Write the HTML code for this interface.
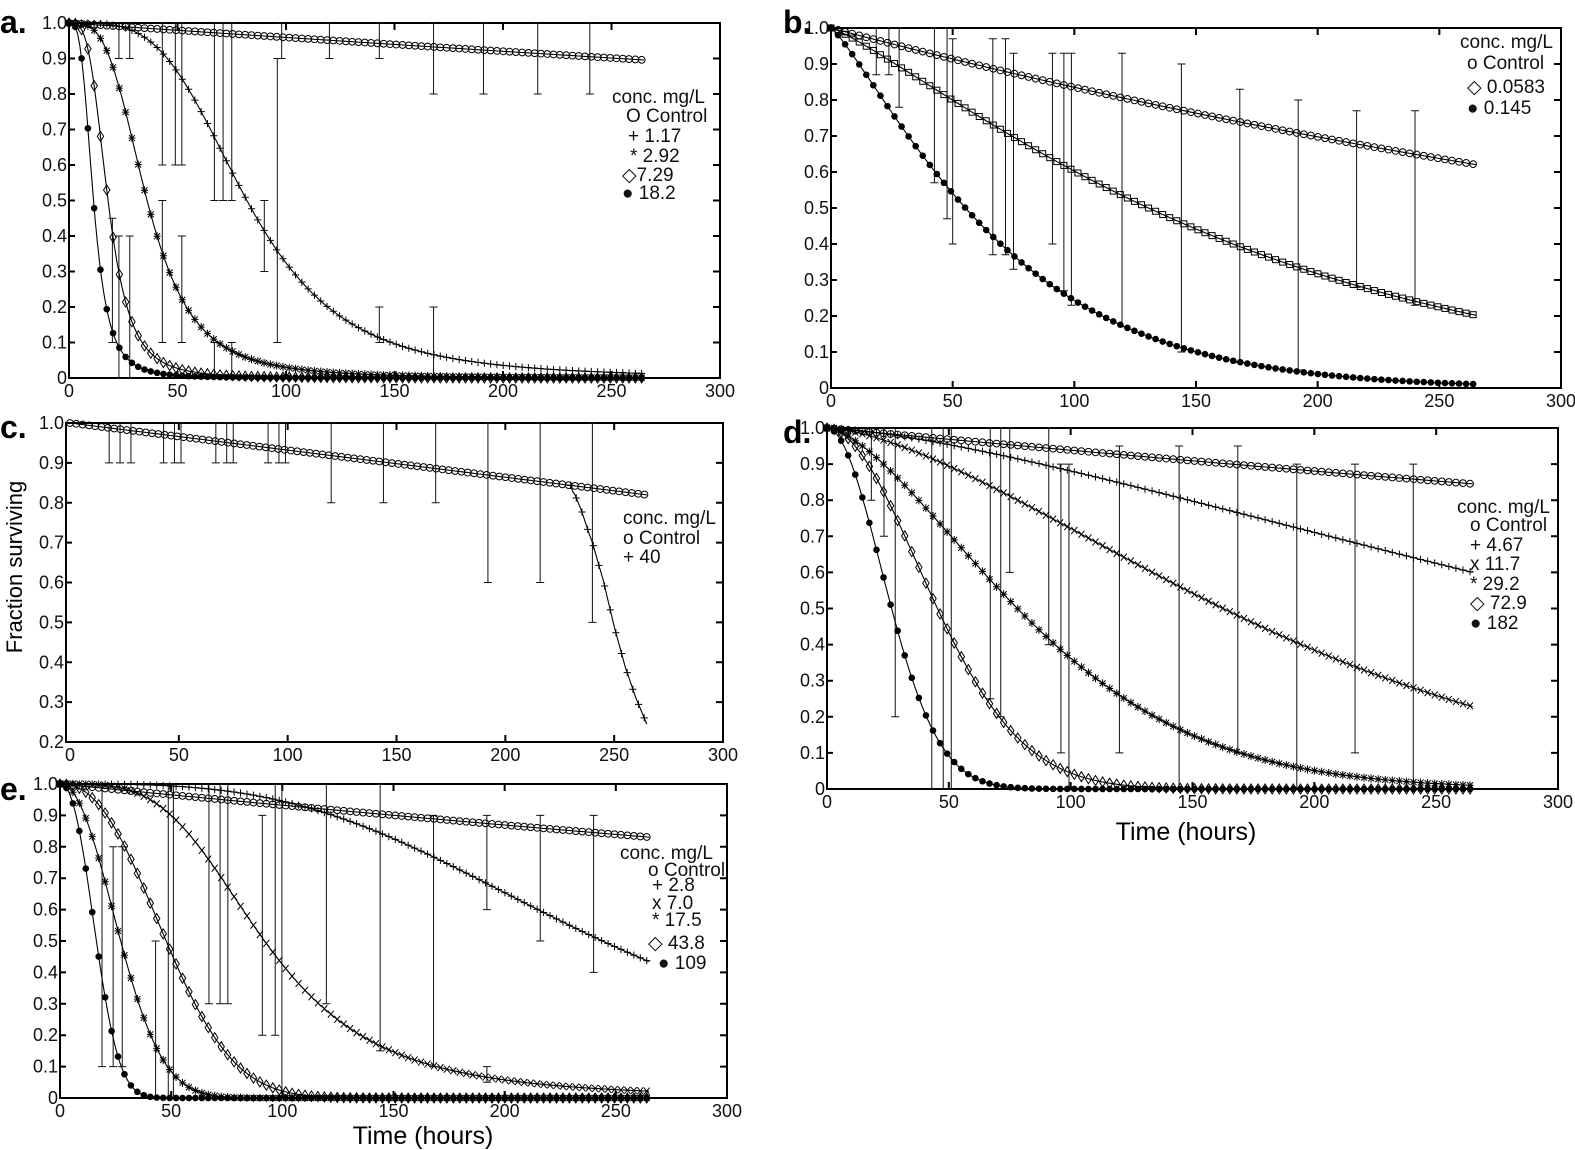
<!DOCTYPE html>
<html><head><meta charset="utf-8">
<style>
html,body{margin:0;padding:0;background:#fff;}
svg{display:block;font-family:"Liberation Sans",sans-serif;}
.n{font-family:"Liberation Sans Narrow","Liberation Sans",sans-serif;}
</style></head>
<body>
<svg id="s" width="1575" height="1150" viewBox="0 0 1575 1150" xmlns="http://www.w3.org/2000/svg"></svg>
<script>
const S=document.getElementById('s');
let out=[];
function ll(t50,k){return t=>1/(1+Math.pow(t/t50,k));}
function wb(l,k){return t=>Math.exp(-Math.pow(t/l,k));}
function ex(r){return t=>Math.exp(-r*t);}
function lin(a){return t=>1-a*t;}
function mk(type,x,y){
  const s=3.6;
  switch(type){
    case 'o': return `<circle cx="${x}" cy="${y}" r="3.4" fill="none" stroke="#000" stroke-width="1"/>`;
    case 'd': return `<path d="M${x} ${y-5}L${x+3.2} ${y}L${x} ${y+5}L${x-3.2} ${y}Z" fill="none" stroke="#000" stroke-width="1"/>`;
    case 'q': return `<rect x="${x-3}" y="${y-3}" width="6" height="6" fill="none" stroke="#000" stroke-width="1"/>`;
    case 'f': return `<circle cx="${x}" cy="${y}" r="3.3" fill="#000"/>`;
    case 'p': return `<path d="M${x-s} ${y}H${x+s}M${x} ${y-s}V${y+s}" stroke="#000" stroke-width="1"/>`;
    case 'x': return `<path d="M${x-3} ${y-3.5}L${x+3} ${y+3.5}M${x+3} ${y-3.5}L${x-3} ${y+3.5}" stroke="#000" stroke-width="1"/>`;
    case 's': return `<path d="M${x-3.5} ${y}H${x+3.5}M${x} ${y-4}V${y+4}M${x-3} ${y-3}L${x+3} ${y+3}M${x+3} ${y-3}L${x-3} ${y+3}" stroke="#000" stroke-width="1"/>`;
  }
}
function panel(p){
  const X=t=>p.x0+(p.x1-p.x0)*t/300;
  const Y=v=>p.yb-(p.yb-p.yt)*(v-p.ymin)/(1-p.ymin);
  const L=p.bl||p.x0;
  out.push(`<rect x="${L}" y="${p.yt}" width="${p.x1-L}" height="${p.yb-p.yt}" fill="none" stroke="#000" stroke-width="2"/>`);
  for(let v=p.ymin;v<=1.0001;v+=0.1){
    const y=Y(v);
    out.push(`<path d="M${L} ${y}h6M${p.x1} ${y}h-7" stroke="#000" stroke-width="2"/>`);
    let lab=Math.abs(v)<1e-6?'0':(Math.abs(v-1)<1e-6?'1.0':v.toFixed(1));
    out.push(`<text class="n" x="${L-2}" y="${y+6}" font-size="18" text-anchor="end" fill="#111">${lab}</text>`);
  }
  for(let t=0;t<=300;t+=50){
    const x=X(t);
    if(t>0&&t<300)out.push(`<path d="M${x} ${p.yt}v7M${x} ${p.yb}v-7" stroke="#000" stroke-width="2"/>`);
    out.push(`<text class="n" x="${x}" y="${p.yb+19}" font-size="18" text-anchor="middle" fill="#111">${t}</text>`);
  }
  for(const b of p.bars){
    const x=X(b[0]);
    out.push(`<path d="M${x} ${Y(b[1])}V${Y(b[2])}M${x-4} ${Y(b[1])}h8M${x-4} ${Y(b[2])}h8" stroke="#111" stroke-width="1"/>`);
  }
  for(const s of p.series){
    const t0=s.t0||0, step=s.step||2.9;
    let pts=[];
    for(let t=t0;t<=265.01;t+=1){pts.push([X(t),Y(s.f(t))]);}
    out.push(`<polyline points="${pts.map(q=>q[0].toFixed(1)+','+q[1].toFixed(1)).join(' ')}" fill="none" stroke="#000" stroke-width="1.1"/>`);
    for(let t=t0;t<=265.01;t+=step){out.push(mk(s.m,X(t),Y(s.f(t))));}
  }
  for(const g of p.leg){out.push(`<text class="n" x="${g[0]}" y="${g[1]}" font-size="${g[3]||19}" fill="#111">${g[2]}</text>`);}
  out.push(`<text x="${p.lab[0]}" y="${p.lab[1]}" font-size="32" font-weight="bold" fill="#000">${p.lab[2]}</text>`);
}
const cctrl=lin(0.00068);
const cpts=[[230,0.836],[232,0.82],[235,0.78],[238,0.73],[240,0.70],[245,0.605],[250,0.49],[255,0.39],[260,0.31],[265,0.245]];
function c40(t){if(t<=230)return cctrl(t);for(let i=1;i<cpts.length;i++){if(t<=cpts[i][0]){const a=cpts[i-1],b=cpts[i];return a[1]+(b[1]-a[1])*(t-a[0])/(b[0]-a[0]);}}return 0.245;}

panel({x0:69,x1:720,yt:23,yb:378,ymin:0,lab:[0,33,'a.'],
 bars:[[23,0.9,1],[28,0.9,1],[43,0.6,1],[49,0.6,1],[52,0.6,1],[67,0.5,1],[71,0.5,1],[75,0.5,1],[90,0.3,0.5],[96,0.1,0.9],[98,0.9,1],[120,0.9,1],[143,0.9,1],[143,0.1,0.2],[168,0.8,1],[168,0.0,0.2],[191,0.8,1],[216,0.8,1],[240,0.8,1],[20,0.1,0.45],[23,0.0,0.4],[28,0.0,0.4],[43,0.1,0.5],[52,0.1,0.4],[67,0.0,0.1],[75,0.0,0.1]],
 series:[{m:'o',f:ex(0.11/265)},{m:'p',f:ll(82,3.7)},{m:'s',f:ll(36,3.4)},{m:'d',f:ll(18,3.5)},{m:'f',f:ll(11.3,3.3)}],
 leg:[[612,103,'conc. mg/L'],[626,122,'O Control'],[628,142,'+ 1.17'],[630,162,'* 2.92'],[622,181,'◇7.29'],[622,199,'● 18.2']]});
panel({x0:831,x1:1561,yt:28,yb:388,ymin:0,lab:[783,33,'b.'],
 bars:[[18.6,0.87,1],[23.8,0.87,1],[28,0.78,1],[42.5,0.57,1],[47.7,0.47,1],[50,0.4,0.97],[66.5,0.37,0.97],[71.7,0.37,0.97],[75,0.33,0.93],[91,0.4,0.93],[95.7,0.27,0.93],[98.8,0.23,0.93],[119.6,0.17,0.93],[144,0.1,0.9],[168,0.07,0.83],[192,0.05,0.8],[216,0.28,0.77],[240,0.23,0.77]],
 series:[{m:'o',f:ex(0.0018)},{m:'q',f:wb(178,1.18)},{m:'f',f:wb(75,1.2)}],
 leg:[[1460,48,'conc. mg/L'],[1467,69,'o Control'],[1467,93,'◇ 0.0583'],[1467,114,'● 0.145']]});
panel({x0:70,bl:66,x1:723,yt:423,yb:742,ymin:0.2,lab:[0,438,'c.'],
 bars:[[18,0.9,1],[23,0.9,1],[28,0.9,1],[43,0.9,1],[48,0.9,1],[51,0.9,1],[67,0.9,1],[72,0.9,1],[75,0.9,1],[91,0.9,1],[96,0.9,1],[99,0.9,1],[120,0.8,1],[144,0.8,1],[168,0.8,1],[192,0.6,1],[216,0.6,1],[240,0.5,1]],
 series:[{m:'o',f:cctrl},{m:'p',f:c40,t0:230,step:2.6}],
 leg:[[623,524,'conc. mg/L'],[623,544,'o Control'],[623,563,'+ 40']]});
panel({x0:827,x1:1558,yt:428,yb:789,ymin:0,lab:[783,443,'d.'],
 bars:[[18.2,0.8,1],[23.4,0.7,1],[28,0.2,1],[43,0,1],[47.7,0,1],[51,0,1],[67,0.25,1],[71.3,0.2,1],[75,0.6,1],[91,0.4,1],[96,0.1,0.9],[99.3,0,0.9],[120,0.1,0.95],[144.5,0,0.95],[168.6,0.1,0.95],[192.8,0,0.9],[216.7,0.1,0.9],[240.6,0,0.9]],
 series:[{m:'o',f:ex(0.000635)},{m:'p',f:wb(424,1.43)},{m:'x',f:wb(206,1.55)},{m:'s',f:wb(99,1.55)},{m:'d',f:wb(55,1.9)},{m:'f',f:wb(32,1.95)}],
 leg:[[1457,513,'conc. mg/L'],[1470,531,'o Control'],[1470,551,'+ 4.67'],[1470,570,'x 11.7'],[1470,590,'* 29.2'],[1470,609,'◇ 72.9'],[1470,629,'● 182']]});
panel({x0:60,x1:727,yt:784,yb:1098,ymin:0,lab:[0,800,'e.'],
 bars:[[18.9,0.1,1],[23.9,0.1,0.8],[28,0.1,0.8],[43,0,0.5],[48.7,0,1],[51,0,1],[67,0.3,1],[72,0.3,1],[75.5,0.3,1],[91,0.2,0.9],[96.8,0.2,1],[99.8,0,1],[119.8,0.3,1],[144,0.15,1],[168,0.1,0.9],[192,0.6,0.9],[192,0.05,0.1],[216,0.5,0.9],[240,0.4,0.9]],
 series:[{m:'o',f:ex(0.0007)},{m:'p',f:ll(244,3.2)},{m:'x',f:ll(92,3.6)},{m:'s',f:wb(32.5,2.1)},{m:'d',f:wb(56,2.3)},{m:'f',f:wb(19.2,2.3)}],
 leg:[[620,859,'conc. mg/L'],[648,876,'o Control'],[652,891,'+ 2.8'],[652,909,'x 7.0'],[652,926,'* 17.5'],[648,949,'◇ 43.8'],[658,969,'● 109']]});
out.push(`<text x="22" y="567" font-size="22" text-anchor="middle" fill="#000" transform="rotate(-90 22 567)">Fraction surviving</text>`);
out.push(`<text class="n" x="1186" y="840" font-size="25" text-anchor="middle" fill="#000">Time (hours)</text>`);
out.push(`<text class="n" x="423" y="1144" font-size="25" text-anchor="middle" fill="#000">Time (hours)</text>`);
S.innerHTML=out.join('');
</script>
</body></html>
